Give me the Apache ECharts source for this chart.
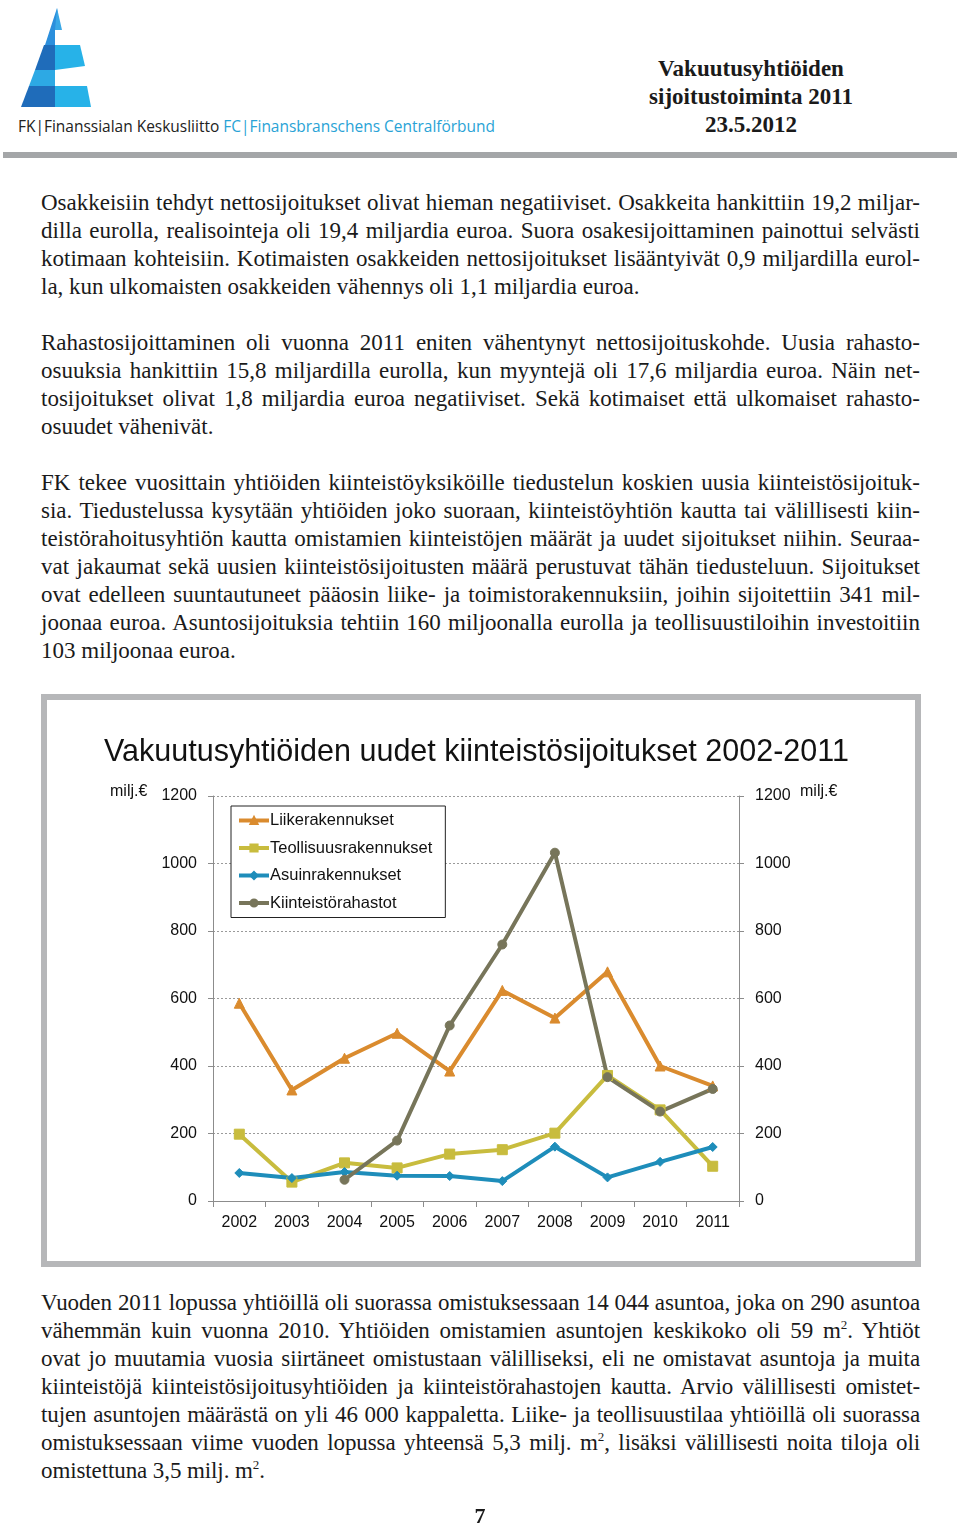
<!DOCTYPE html>
<html><head><meta charset="utf-8">
<script src="https://cdn.jsdelivr.net/npm/echarts@6/dist/echarts.min.js"></script>
<style>
html,body{margin:0;padding:0;background:#fff;}
body{width:960px;height:1525px;position:relative;overflow:hidden;}
.ln{position:absolute;left:41px;width:879px;height:28px;line-height:28px;font-family:"Liberation Serif","Times New Roman",serif;font-size:23px;color:#1a1a1a;text-align:justify;text-align-last:justify;white-space:nowrap;}
.ln.last{text-align-last:left;}
.ln sup{font-size:13px;line-height:0;vertical-align:9px;}
.hdr{position:absolute;left:600px;width:302px;top:55px;font-family:"Liberation Serif",serif;font-weight:bold;font-size:23px;line-height:28px;text-align:center;color:#1a1a1a;}
.org{position:absolute;left:18px;top:115px;font-family:"Open Sans",sans-serif;font-size:17px;line-height:22px;white-space:nowrap;transform:scaleX(0.91);transform-origin:left center;color:#222;}
.org .b{color:#29a3d6;}
.bar{position:absolute;left:3px;top:152px;width:954px;height:6px;background:#a4a6a8;}
.frame{position:absolute;left:41px;top:694px;width:880px;height:573px;box-sizing:border-box;border:6px solid #b6b7b9;background:#fff;}
#chart{position:absolute;left:0;top:0;width:960px;height:1525px;}
.pg{position:absolute;left:430px;width:100px;top:1502px;text-align:center;font-family:"Liberation Serif",serif;font-weight:bold;font-size:22px;line-height:28px;color:#1a1a1a;}
</style>
</head>
<body>
<svg style="position:absolute;left:0;top:0" width="110" height="112">
  <polygon points="57,8 45,45 55,45 55,30 60,30" fill="#2c8fdc"/>
  <polygon points="57,8 62,30 55,30" fill="#3aa8e6"/>
  <polygon points="44,45 35,70 55,70 55,45" fill="#1f6cba"/>
  <polygon points="55,45 80,45 85,66 55,70" fill="#27b2e8"/>
  <polygon points="35,70 29,86 55,86 55,70" fill="#2da9e4"/>
  <polygon points="29,86 21,107 55,107 55,86" fill="#1f6cba"/>
  <polygon points="55,86 87,86 91,107 55,107" fill="#27b2e8"/>
</svg>
<div class="org">FK|Finanssialan Keskusliitto <span class="b">FC|Finansbranschens Centralförbund</span></div>
<div class="hdr">Vakuutusyhtiöiden<br>sijoitustoiminta 2011<br>23.5.2012</div>
<div class="bar"></div>
<div id="text"></div>
<div class="frame"></div>
<div id="chart"></div>
<div class="pg">7</div>
<script>
// ---- data ----
const years = ['2002','2003','2004','2005','2006','2007','2008','2009','2010','2011'];
const seriesNames = ['Liikerakennukset','Teollisuusrakennukset','Asuinrakennukset','Kiinteistörahastot'];
const liike    = [586, 329, 423, 497, 385, 624, 542, 679, 400, 341];
const teoll    = [198,  56, 113,  98, 139, 152, 201, 372, 270, 103];
const asuin    = [ 83,  68,  86,  75,  74,  59, 161,  70, 116, 160];
const rahastot = [null, null, 63, 179, 520, 760, 1032, 367, 265, 332];
const yTicks = [0, 200, 400, 600, 800, 1000, 1200];
const unitLabel = 'milj.€';
const chartTitle = 'Vakuutusyhtiöiden uudet kiinteistösijoitukset 2002-2011';

// ---- page text ----
const paragraphs = [
 {y:203, lines:[
  'Osakkeisiin tehdyt nettosijoitukset olivat hieman negatiiviset. Osakkeita hankittiin 19,2 miljar-',
  'dilla eurolla, realisointeja oli 19,4 miljardia euroa. Suora osakesijoittaminen painottui selvästi',
  'kotimaan kohteisiin. Kotimaisten osakkeiden nettosijoitukset lisääntyivät 0,9 miljardilla eurol-',
  'la, kun ulkomaisten osakkeiden vähennys oli 1,1 miljardia euroa.']},
 {y:343, lines:[
  'Rahastosijoittaminen oli vuonna 2011 eniten vähentynyt nettosijoituskohde. Uusia rahasto-',
  'osuuksia hankittiin 15,8 miljardilla eurolla, kun myyntejä oli 17,6 miljardia euroa. Näin net-',
  'tosijoitukset olivat 1,8 miljardia euroa negatiiviset. Sekä kotimaiset että ulkomaiset rahasto-',
  'osuudet vähenivät.']},
 {y:483, lines:[
  'FK tekee vuosittain yhtiöiden kiinteistöyksiköille tiedustelun koskien uusia kiinteistösijoituk-',
  'sia. Tiedustelussa kysytään yhtiöiden joko suoraan, kiinteistöyhtiön kautta tai välillisesti kiin-',
  'teistörahoitusyhtiön kautta omistamien kiinteistöjen määrät ja uudet sijoitukset niihin. Seuraa-',
  'vat jakaumat sekä uusien kiinteistösijoitusten määrä perustuvat tähän tiedusteluun. Sijoitukset',
  'ovat edelleen suuntautuneet pääosin liike- ja toimistorakennuksiin, joihin sijoitettiin 341 mil-',
  'joonaa euroa. Asuntosijoituksia tehtiin 160 miljoonalla eurolla ja teollisuustiloihin investoitiin',
  '103 miljoonaa euroa.']},
 {y:1303, tight:true, lines:[
  'Vuoden 2011 lopussa yhtiöillä oli suorassa omistuksessaan 14 044 asuntoa, joka on 290 asuntoa',
  'vähemmän kuin vuonna 2010. Yhtiöiden omistamien asuntojen keskikoko oli 59 m<sup>2</sup>. Yhtiöt',
  'ovat jo muutamia vuosia siirtäneet omistustaan välilliseksi, eli ne omistavat asuntoja ja muita',
  'kiinteistöjä kiinteistösijoitusyhtiöiden ja kiinteistörahastojen kautta. Arvio välillisesti omistet-',
  'tujen asuntojen määrästä on yli 46 000 kappaletta. Liike- ja teollisuustilaa yhtiöillä oli suorassa',
  'omistuksessaan viime vuoden lopussa yhteensä 5,3 milj. m<sup>2</sup>, lisäksi välillisesti noita tiloja oli',
  'omistettuna 3,5 milj. m<sup>2</sup>.']}
];
const host = document.getElementById('text');
paragraphs.forEach(p => {
  p.lines.forEach((t, i) => {
    const d = document.createElement('div');
    d.className = 'ln' + (i === p.lines.length - 1 ? ' last' : '');
    d.style.top = (p.y - 14 + i * 28) + 'px';
    if (p.tight) d.style.letterSpacing = '-0.1px';
    d.innerHTML = t;
    host.appendChild(d);
  });
});

// ---- chart ----
const colors = ['#DA8B2E', '#C8BC3E', '#1E8DBA', '#77755A'];
const symbols = ['triangle', 'rect', 'diamond', 'circle'];
const symbolSizes = [10, 10, 9, 9];
const dataSets = [liike, teoll, asuin, rahastot];
const font = '"Liberation Sans", Arial, sans-serif';
const chart = echarts.init(document.getElementById('chart'), null, {renderer: 'canvas'});
const axisCommon = {
  type: 'value', min: 0, max: 1200, interval: 200,
  axisLine: {show: true, lineStyle: {color: '#8c8c8c', width: 1}},
  axisTick: {show: true, length: 5, lineStyle: {color: '#8c8c8c'}},
  axisLabel: {fontFamily: font, fontSize: 16, color: '#111', margin: 16, formatter: v => String(v)}
};
chart.setOption({
  animation: false,
  title: {
    text: chartTitle, left: 99, top: 732,
    textStyle: {fontFamily: font, fontSize: 30.5, fontWeight: 'normal', color: '#111'}
  },
  legend: {
    orient: 'vertical', left: 231, top: 806,
    data: seriesNames,
    backgroundColor: '#fff',
    borderColor: '#222', borderWidth: 1,
    padding: [5, 13, 5, 6],
    itemWidth: 30, itemHeight: 9, itemGap: 8.5,
    lineStyle: {width: 4},
    textStyle: {fontFamily: font, fontSize: 16.5, lineHeight: 19, color: '#111', padding: [0, 0, 0, -4]}
  },
  graphic: [
    {type: 'text', left: 110, top: 784, style: {text: unitLabel, font: '16px ' + font, fill: '#111'}},
    {type: 'text', left: 800, top: 784, style: {text: unitLabel, font: '16px ' + font, fill: '#111'}}
  ],
  grid: {left: 213, top: 796, width: 526, height: 405, containLabel: false},
  xAxis: {
    type: 'category', data: years, boundaryGap: true,
    axisLine: {lineStyle: {color: '#8c8c8c'}},
    axisTick: {show: true, length: 6, alignWithLabel: false, lineStyle: {color: '#8c8c8c'}},
    axisLabel: {fontFamily: font, fontSize: 16, color: '#111', margin: 14, interval: 0}
  },
  yAxis: [
    Object.assign({}, axisCommon, {
      position: 'left',
      splitLine: {show: true, lineStyle: {color: '#9a9a9a', type: [2, 2], width: 1}}
    }),
    Object.assign({}, axisCommon, {position: 'right', splitLine: {show: false}})
  ],
  series: seriesNames.map((n, i) => ({
    name: n, type: 'line', data: dataSets[i], yAxisIndex: 0,
    symbol: symbols[i], symbolSize: symbolSizes[i], showSymbol: true,
    connectNulls: false,
    lineStyle: {color: colors[i], width: 4},
    itemStyle: {color: colors[i], borderColor: colors[i], borderWidth: 1}
  }))
});
</script>
</body></html>
